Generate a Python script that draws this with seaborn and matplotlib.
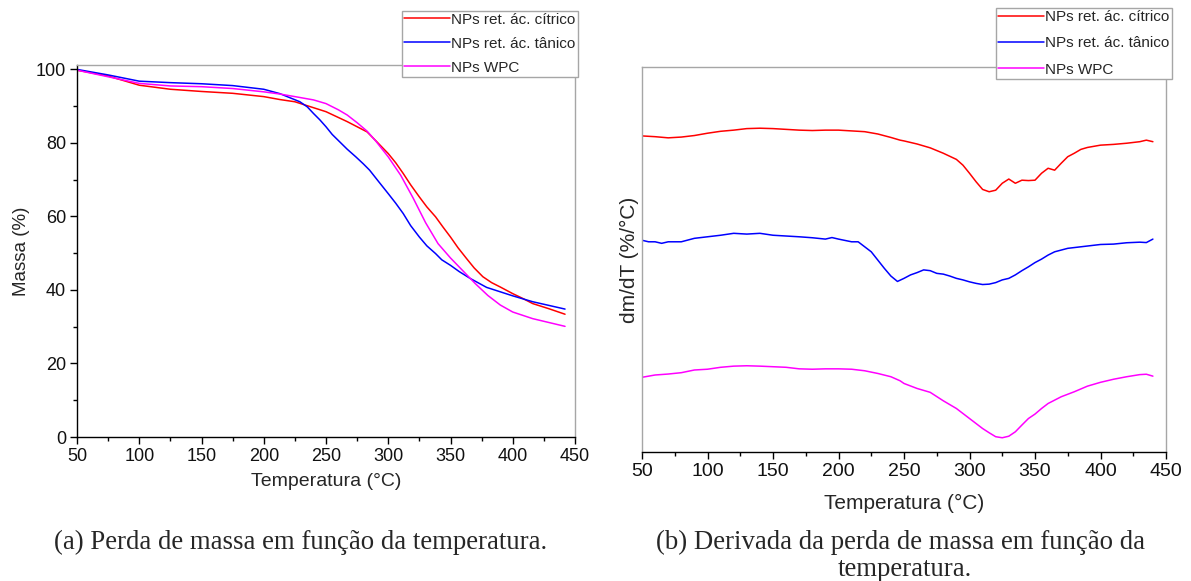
import numpy as np
import pandas as pd
import matplotlib
matplotlib.use("Agg")
import matplotlib.pyplot as plt
from matplotlib.ticker import MultipleLocator
import seaborn as sns

# ---- TGA: mass (%) vs temperature (°C) ----
tga_temp_citrico = [50, 75, 100, 125, 150, 175, 200, 213, 225, 250, 267, 283, 290, 300, 306, 312, 318, 325, 331, 338, 344,
                    350, 356, 363, 369, 376, 383, 390, 400, 408, 416, 429, 442]
tga_mass_citrico = [99.8, 98.2, 95.7, 94.6, 94.0, 93.5, 92.6, 91.8, 91.2, 88.5, 85.8, 83.0, 80.6, 77.1, 74.6, 71.7, 68.6, 65.3, 62.6, 59.9, 57.1,
                    54.4, 51.5, 48.5, 46.0, 43.6, 42.0, 40.8, 39.0, 37.7, 36.3, 34.9, 33.4]

tga_temp_tanico = [50, 75, 100, 125, 150, 175, 200, 213, 229, 235, 240, 245, 250, 255, 261, 267, 274, 280, 285, 292, 300, 306,
                   312, 318, 325, 331, 338, 343, 350, 357, 366, 379, 400, 416, 442]
tga_mass_tanico = [100.0, 98.5, 96.8, 96.4, 96.1, 95.6, 94.6, 93.4, 91.2, 89.8, 88.0, 86.3, 84.4, 82.3, 80.3, 78.3, 76.2, 74.3, 72.6, 69.6, 66.2, 63.6,
                   60.8, 57.5, 54.4, 52.0, 49.9, 48.2, 46.7, 45.0, 43.1, 40.7, 38.4, 36.8, 34.8]

tga_temp_wpc = [50, 75, 100, 125, 150, 175, 200, 213, 225, 240, 250, 260, 267, 275, 283, 290, 300, 310, 320, 330, 340,
                350, 360, 370, 380, 390, 400, 416, 442]
tga_mass_wpc = [99.8, 98.0, 96.2, 95.5, 95.3, 94.8, 93.9, 93.3, 92.6, 91.7, 90.7, 89.0, 87.6, 85.5, 83.2, 80.5, 76.2, 71.2, 65.0, 58.3, 52.6,
                48.7, 45.2, 41.7, 38.5, 35.9, 34.0, 32.2, 30.1]

# ---- DTG: dm/dT (arbitrary offset units) vs temperature (°C) ----
dtg_temp_citrico = [50, 60, 70, 80, 90, 100, 110, 120, 130, 140, 150, 160, 170, 180, 190, 200, 210, 220, 230, 240, 247,
                    250, 260, 270, 280, 290, 295, 300, 305, 310, 315, 320, 325, 330, 335, 340, 345, 350, 355, 360, 365,
                    370, 375, 380, 385, 390, 400, 410, 420, 430, 435, 440]
dtg_rate_citrico = [82.1, 81.9, 81.6, 81.8, 82.2, 82.8, 83.3, 83.6, 84.0, 84.1, 84.0, 83.8, 83.6, 83.5, 83.6, 83.6, 83.4, 83.2, 82.6, 81.7, 81.0,
                    80.8, 80.0, 79.0, 77.6, 76.0, 74.5, 72.4, 70.2, 68.2, 67.6, 68.0, 69.8, 70.9, 69.8, 70.6, 70.5, 70.6, 72.4, 73.7, 73.2,
                    75.0, 76.7, 77.6, 78.6, 79.1, 79.7, 79.9, 80.2, 80.6, 81.0, 80.6]

dtg_temp_tanico = [50, 55, 60, 65, 70, 80, 90, 100, 110, 120, 130, 140, 150, 160, 170, 180, 190, 195, 200, 210, 215, 220, 225,
                   230, 235, 240, 245, 250, 255, 260, 265, 270, 275, 280, 285, 290, 295, 300, 305, 310, 315, 320, 325, 330,
                   335, 340, 345, 350, 355, 360, 365, 370, 375, 380, 390, 400, 410, 420, 430, 435, 440]
dtg_rate_tanico = [55.0, 54.6, 54.6, 54.2, 54.6, 54.6, 55.5, 55.9, 56.3, 56.8, 56.6, 56.8, 56.3, 56.1, 55.9, 55.65, 55.3, 55.7, 55.3, 54.6, 54.6, 53.3, 52.0,
                   49.85, 47.7, 45.7, 44.3, 45.1, 46.0, 46.6, 47.3, 47.1, 46.4, 46.2, 45.7, 45.1, 44.7, 44.2, 43.8, 43.5, 43.6, 44.0, 44.7, 45.1,
                   46.0, 47.1, 48.1, 49.2, 50.1, 51.15, 52.0, 52.45, 52.9, 53.1, 53.5, 53.9, 54.0, 54.35, 54.5, 54.4, 55.3]

dtg_temp_wpc = [50, 55, 60, 70, 80, 90, 100, 110, 120, 130, 140, 150, 160, 170, 180, 190, 200, 210, 220, 230, 240, 247,
                250, 260, 270, 280, 290, 300, 310, 315, 320, 325, 330, 335, 340, 345, 350, 355, 360, 370, 380, 390,
                400, 410, 420, 430, 435, 440]
dtg_rate_wpc = [19.4, 19.7, 20.0, 20.25, 20.6, 21.3, 21.5, 22.0, 22.3, 22.4, 22.3, 22.15, 22.0, 21.6, 21.5, 21.6, 21.6, 21.5, 21.1, 20.4, 19.55, 18.5,
                17.8, 16.5, 15.5, 13.3, 11.3, 8.7, 6.1, 5.0, 3.97, 3.7, 4.1, 5.25, 7.0, 8.7, 9.85, 11.3, 12.6, 14.35, 15.65, 17.1,
                18.1, 18.9, 19.55, 20.1, 20.2, 19.7]

series_labels = ["NPs ret. ác. cítrico", "NPs ret. ác. tânico", "NPs WPC"]
series_colors = ["#ff0000", "#0000ff", "#ff00ff"]

caption_a = "(a) Perda de massa em função da temperatura."
caption_b1 = "(b) Derivada da perda de massa em função da"
caption_b2 = "temperatura."

sns.set_theme(style="ticks")
plt.rcParams["font.family"] = ["Liberation Sans", "DejaVu Sans"]
plt.rcParams["axes.linewidth"] = 1.0

W, H = 1191, 581
fig = plt.figure(figsize=(W / 100, H / 100), dpi=100)

def px_axes(x0, y0, x1, y1):
    return fig.add_axes([x0 / W, 1 - y1 / H, (x1 - x0) / W, (y1 - y0) / H])

ax1 = px_axes(77, 65, 575, 437)
ax2 = px_axes(642, 67, 1166, 452)

tga = [(tga_temp_citrico, tga_mass_citrico), (tga_temp_tanico, tga_mass_tanico), (tga_temp_wpc, tga_mass_wpc)]
dtg = [(dtg_temp_citrico, dtg_rate_citrico), (dtg_temp_tanico, dtg_rate_tanico), (dtg_temp_wpc, dtg_rate_wpc)]

for (t, m), lab, col in zip(tga, series_labels, series_colors):
    df = pd.DataFrame({"T": t, "v": m})
    sns.lineplot(data=df, x="T", y="v", ax=ax1, color=col, lw=1.1, label=lab)
for (t, r), lab, col in zip(dtg, series_labels, series_colors):
    df = pd.DataFrame({"T": t, "v": r})
    sns.lineplot(data=df, x="T", y="v", ax=ax2, color=col, lw=1.1, label=lab)

grey = "#a6a6a6"
for ax, fs in ((ax1, 13), (ax2, 14)):
    ax.set_xlim(50, 450)
    ax.xaxis.set_major_locator(MultipleLocator(50))
    ax.xaxis.set_minor_locator(MultipleLocator(25))
    ax.tick_params(axis="both", which="major", direction="out", length=5, width=1,
                   labelsize=fs, color="black", labelcolor="#111111", pad=3)
    ax.tick_params(axis="both", which="minor", direction="out", length=3.2, width=1, color="black")
    ax.tick_params(top=False, right=False, which="both")
    for s in ("top", "right"):
        ax.spines[s].set_color(grey)
    ax.spines["bottom"].set_color("black")
    ax.get_legend().remove()

ax1.set_ylim(0, 101.2)
ax1.yaxis.set_major_locator(MultipleLocator(20))
ax1.yaxis.set_minor_locator(MultipleLocator(10))
ax1.spines["left"].set_color("black")
ax1.set_xlabel("Temperatura (°C)", fontsize=14, labelpad=6)
ax1.set_ylabel("Massa (%)", fontsize=13.5, labelpad=4)

ax2.set_ylim(0, 100)
ax2.set_yticks([])
ax2.spines["left"].set_color(grey)
ax2.set_xlabel("Temperatura (°C)", fontsize=15, labelpad=10)
ax2.set_ylabel("dm/dT (%/°C)", fontsize=15, labelpad=2)

leg_kw = dict(fontsize=11, frameon=True, fancybox=False, edgecolor=grey, framealpha=1,
              handlelength=3.0, handletextpad=0.1, borderpad=0.15, borderaxespad=0)
leg1 = fig.legend(ax1.get_lines()[:3], series_labels, loc="lower right",
                  bbox_to_anchor=(578 / W, 1 - 77 / H), labelspacing=0.65, **leg_kw)
leg2 = fig.legend(ax2.get_lines()[:3], series_labels, loc="lower right",
                  bbox_to_anchor=(1172 / W, 1 - 79 / H), labelspacing=0.8, **leg_kw)
for lg in (leg1, leg2):
    lg.get_frame().set_linewidth(1.0)

serif = ["Liberation Serif", "DejaVu Serif"]
fig.text(301 / W, 1 - 542 / H, caption_a, ha="center", va="center", fontsize=19.3, family=serif)
fig.text(901 / W, 1 - 542 / H, caption_b1, ha="center", va="center", fontsize=19.3, family=serif)
fig.text(905 / W, 1 - 569 / H, caption_b2, ha="center", va="center", fontsize=19.3, family=serif)

fig.savefig("out.png", dpi=100)
